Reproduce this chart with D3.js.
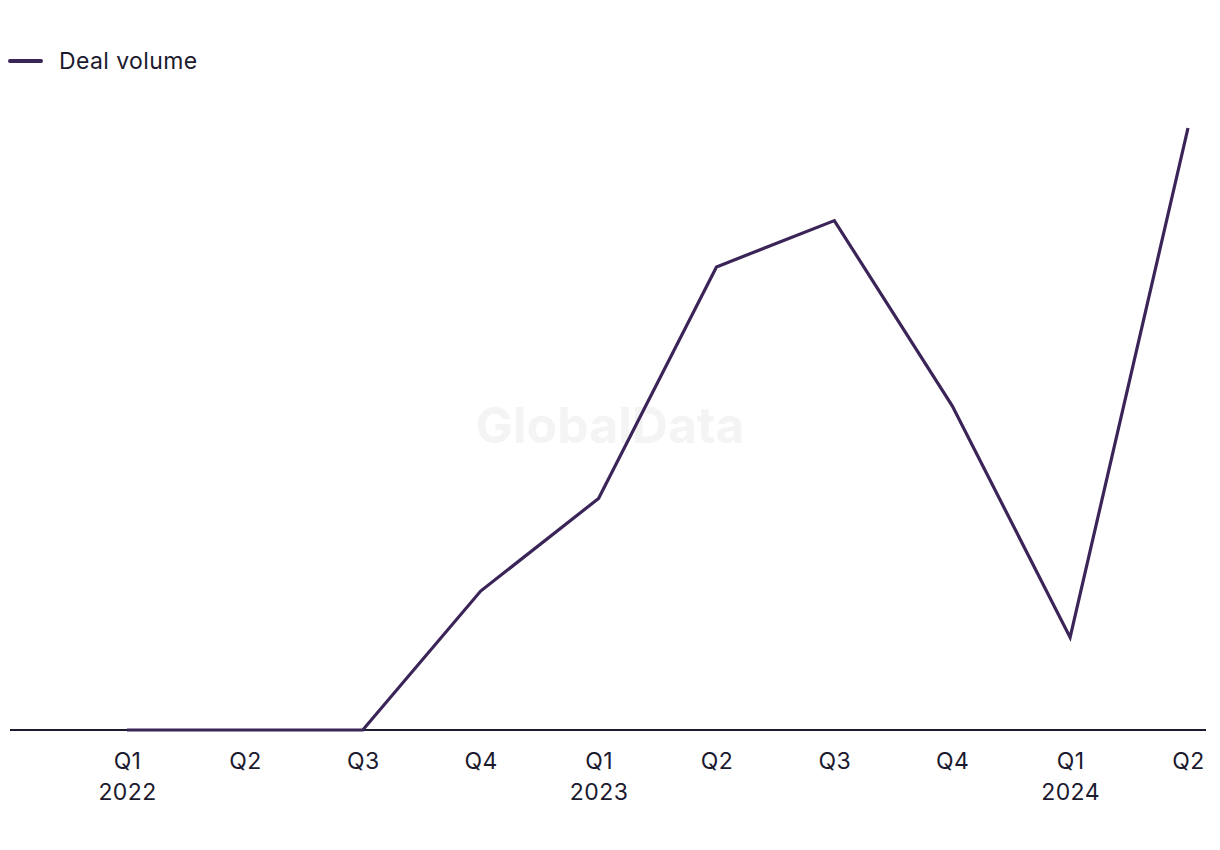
<!DOCTYPE html>
<html>
<head>
<meta charset="utf-8">
<script src="https://cdn.jsdelivr.net/npm/d3@7"></script>
<style>
  html, body { margin: 0; padding: 0; background: #ffffff; }
  svg { display: block; font-family: "Inter", "Noto Sans", sans-serif; }
</style>
</head>
<body>
<svg id="chart" width="1220" height="850"></svg>
<script>
const quarters = ["Q1", "Q2", "Q3", "Q4", "Q1", "Q2", "Q3", "Q4", "Q1", "Q2"];
const years = ["2022", "", "", "", "2023", "", "", "", "2024", ""];
const categories = quarters.map((q, i) => q + "|" + i);
const dealVolume = [0, 0, 0, 3, 5, 10, 11, 7, 2, 13];
const seriesName = "Deal volume";

const svg = d3.select("#chart");
const lineColor = "#3b2458";
const inkColor = "#1b1a2e";

const x = d3.scalePoint().domain(categories).range([127, 1188]);
const y = d3.scaleLinear().domain([0, 13]).range([730, 128]);

// watermark
svg.append("text")
  .attr("x", 610).attr("y", 443)
  .attr("text-anchor", "middle")
  .attr("font-size", 50)
  .attr("font-weight", 700)
  .attr("fill", "#f4f4f4")
  .text("GlobalData");

// x axis baseline
svg.append("line")
  .attr("x1", 10).attr("x2", 1206)
  .attr("y1", y(0)).attr("y2", y(0))
  .attr("stroke", inkColor).attr("stroke-width", 2);

// x axis labels
const xAxis = d3.axisBottom(x).tickSize(0).tickPadding(0).tickFormat(() => "");
const gx = svg.append("g").attr("transform", `translate(0,${y(0)})`).call(xAxis);
gx.select(".domain").remove();
gx.selectAll(".tick").each(function(d, i) {
  const t = d3.select(this).select("text");
  t.attr("y", 0).attr("dy", null).attr("font-size", 23).attr("fill", inkColor)
   .attr("font-family", "Inter, 'Noto Sans', sans-serif")
   .attr("letter-spacing", "0.4px");
  t.append("tspan").attr("x", 0).attr("y", 39).text(quarters[i]);
  if (years[i]) t.append("tspan").attr("x", 0).attr("y", 70).text(years[i]);
});

// line
const line = d3.line()
  .x((d, i) => x(categories[i]))
  .y(d => y(d));
svg.append("path")
  .datum(dealVolume)
  .attr("fill", "none")
  .attr("stroke", lineColor)
  .attr("stroke-width", 3.2)
  .attr("stroke-linejoin", "miter")
  .attr("d", line);

// legend
const lg = svg.append("g").attr("transform", "translate(10,61)");
lg.append("line").attr("x1", 0).attr("x2", 31).attr("y1", 0).attr("y2", 0)
  .attr("stroke", lineColor).attr("stroke-width", 4).attr("stroke-linecap", "round");
lg.append("text").attr("x", 49).attr("y", 8)
  .attr("font-size", 23).attr("letter-spacing", "0.4px").attr("fill", inkColor).text(seriesName);
</script>
</body>
</html>
